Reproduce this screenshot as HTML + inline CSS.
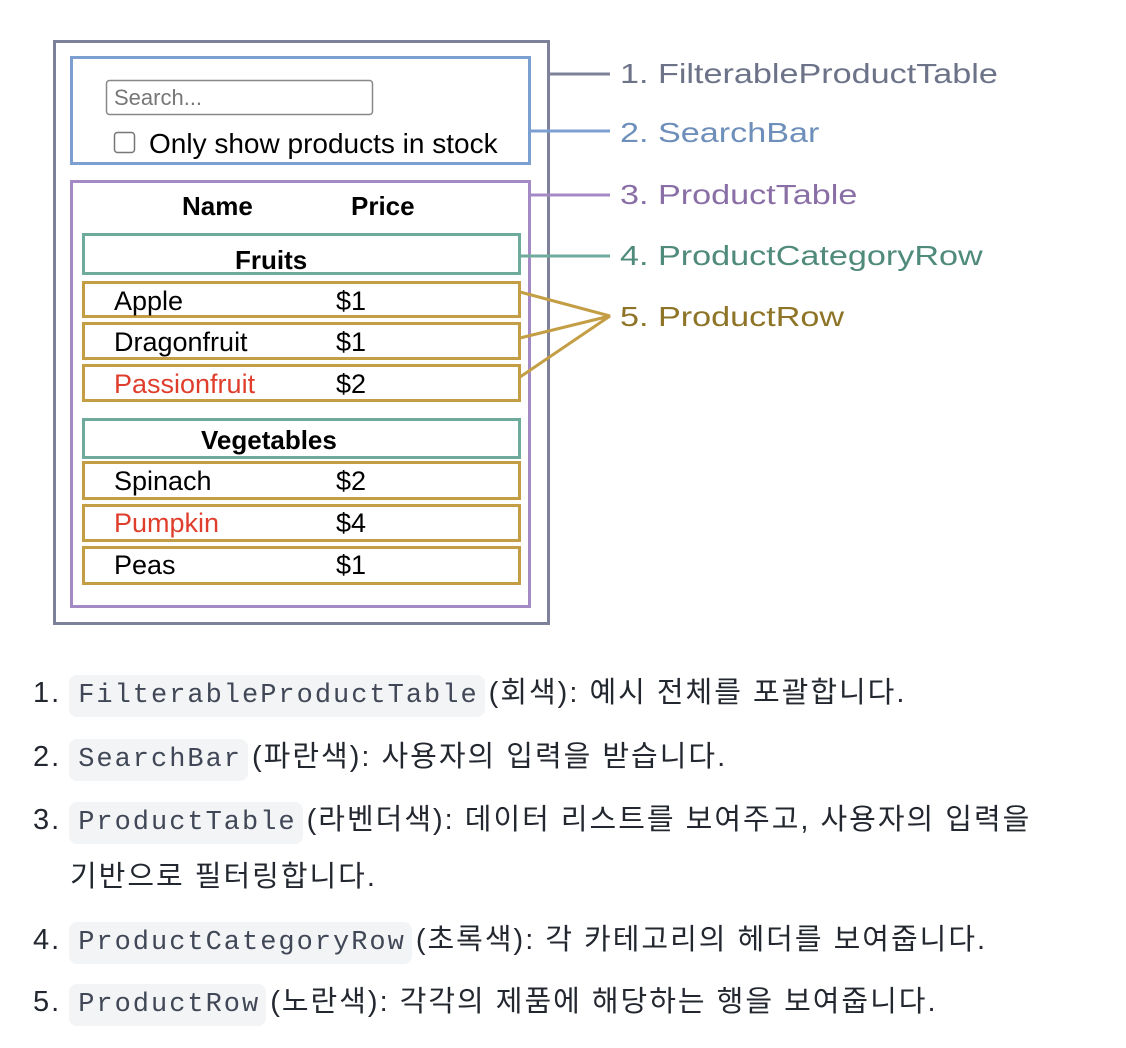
<!DOCTYPE html><html><head><meta charset="utf-8"><style>
body{margin:0;width:1126px;height:1048px;background:#fff;position:relative;font-family:"Liberation Sans",sans-serif;overflow:hidden}
.t{position:absolute;white-space:nowrap;line-height:1}
.lab{font-size:28px;transform:scaleX(1.22);transform-origin:left center}
.d{font-size:27px;color:#000}
.r{color:#e03e2d}
.b{font-weight:bold;font-size:26px}
.li{position:absolute;left:33px;font-size:29px;letter-spacing:2px;color:#23272f;font-family:"Liberation Sans","Noto Sans CJK KR",sans-serif;white-space:nowrap;line-height:1}
.c{font-family:"Liberation Mono",monospace;font-size:27px;letter-spacing:2px;background:#f3f4f6;color:#404756;border-radius:8px;padding:6px 6px 6px 9px;margin:0 4px 0 8px}
</style></head><body>
<svg width="1126" height="1048" style="position:absolute;left:0;top:0">
<g fill="none" stroke-width="3">
<rect x="54.5" y="41.5" width="494" height="582" stroke="#7d8199"/>
<rect x="71.5" y="57.5" width="458" height="106" stroke="#7c9fd1"/>
<rect x="71.5" y="181.5" width="458" height="425" stroke="#a48ac4"/>
<rect x="83.5" y="234.5" width="436" height="39" stroke="#6fab9c"/>
<rect x="83.5" y="419.5" width="436" height="38" stroke="#6fab9c"/>
<g stroke="#c49e45"><rect x="83.5" y="282.5" width="436" height="34"/><rect x="83.5" y="323.5" width="436" height="35"/><rect x="83.5" y="365.5" width="436" height="35"/><rect x="83.5" y="462.5" width="436" height="36"/><rect x="83.5" y="505.5" width="436" height="35"/><rect x="83.5" y="547.5" width="436" height="36"/>
<path d="M520 292 L610 316 L520 338 M610 316 L520 377"/></g>
<path d="M549 74 H610" stroke="#7d8199"/>
<path d="M530 131 H610" stroke="#7c9fd1"/>
<path d="M530 195 H610" stroke="#a48ac4"/>
<path d="M520 256 H610" stroke="#6fab9c"/>
</g>
<rect x="106.5" y="80.5" width="266" height="34" rx="3" fill="#fff" stroke="#888" stroke-width="1.5"/>
<rect x="114.5" y="132.5" width="20" height="20" rx="3" fill="#fff" stroke="#777" stroke-width="1.5"/>
</svg>
<div class="t lab" style="left:620px;top:60px;color:#6c7388">1. FilterableProductTable</div>
<div class="t lab" style="left:620px;top:119px;color:#6d8fba">2. SearchBar</div>
<div class="t lab" style="left:620px;top:181px;color:#8a6fa6">3. ProductTable</div>
<div class="t lab" style="left:620px;top:242px;color:#4f8a7b">4. ProductCategoryRow</div>
<div class="t lab" style="left:620px;top:303px;color:#8e7427">5. ProductRow</div>
<div class="t" style="left:114px;top:87px;font-size:22px;color:#777">Search...</div>
<div class="t d" style="left:149px;top:130px;font-size:28px">Only show products in stock</div>
<div class="t d b" style="left:182px;top:193px">Name</div>
<div class="t d b" style="left:351px;top:193px">Price</div>
<div class="t d b" style="left:235px;top:247px">Fruits</div>
<div class="t d b" style="left:201px;top:427px">Vegetables</div>
<div class="t d" style="left:114px;top:288px">Apple</div><div class="t d" style="left:336px;top:288px">$1</div>
<div class="t d" style="left:114px;top:329px">Dragonfruit</div><div class="t d" style="left:336px;top:329px">$1</div>
<div class="t d r" style="left:114px;top:371px">Passionfruit</div><div class="t d" style="left:336px;top:371px">$2</div>
<div class="t d" style="left:114px;top:468px">Spinach</div><div class="t d" style="left:336px;top:468px">$2</div>
<div class="t d r" style="left:114px;top:510px">Pumpkin</div><div class="t d" style="left:336px;top:510px">$4</div>
<div class="t d" style="left:114px;top:552px">Peas</div><div class="t d" style="left:336px;top:552px">$1</div>
<div class="li" style="top:679px">1.<span class="c">FilterableProductTable</span>(회색): 예시 전체를 포괄합니다.</div>
<div class="li" style="top:743px">2.<span class="c">SearchBar</span>(파란색): 사용자의 입력을 받습니다.</div>
<div class="li" style="top:806px">3.<span class="c">ProductTable</span>(라벤더색): 데이터 리스트를 보여주고, 사용자의 입력을</div>
<div class="li" style="top:863px;left:70px">기반으로 필터링합니다.</div>
<div class="li" style="top:926px">4.<span class="c">ProductCategoryRow</span>(초록색): 각 카테고리의 헤더를 보여줍니다.</div>
<div class="li" style="top:988px">5.<span class="c">ProductRow</span>(노란색): 각각의 제품에 해당하는 행을 보여줍니다.</div>
</body></html>
